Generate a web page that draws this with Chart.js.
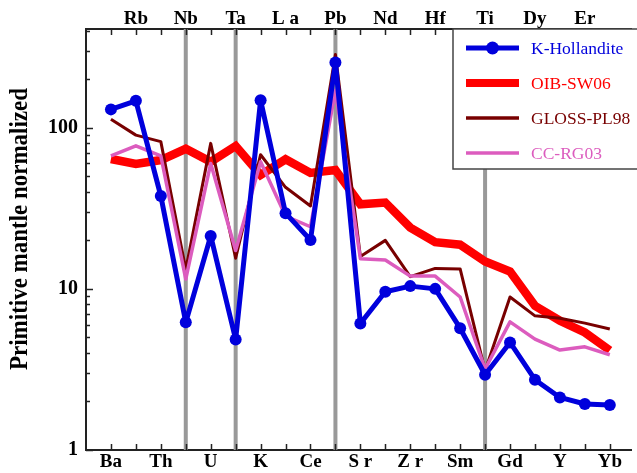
<!DOCTYPE html>
<html>
<head>
<meta charset="utf-8">
<script src="https://cdn.jsdelivr.net/npm/chart.js@4/dist/chart.umd.min.js"></script>
<style>
  html, body { margin: 0; padding: 0; background: #fff; }
  #c { display: block; }
</style>
</head>
<body>
<canvas id="c" width="637" height="473"></canvas>
<script>
// Element order along the x axis (spider diagram)
const elements = ['Ba','Rb','Th','Nb','U','Ta','K','La','Ce','Pb','Sr','Nd','Zr','Hf','Sm','Ti','Gd','Dy','Y','Er','Yb'];
// Axis labels as printed (even positions at the bottom, odd positions at the top)
const axisLabels = ['Ba','Rb','Th','Nb','U','Ta','K','L a','Ce','Pb','S r','Nd','Z r','Hf','Sm','Ti','Gd','Dy','Y','Er','Yb'];

// Primitive-mantle normalized concentrations
const kHollandite = [130, 147, 37.7, 6.2, 21.3, 4.85, 148, 29.5, 20.1, 254, 6.1, 9.6, 10.4, 10.0, 5.7, 2.93, 4.65, 2.73, 2.12, 1.93, 1.90];
const oibSW06     = [64, 59.6, 63, 74, 61.5, 77, 50.9, 63.7, 52.4, 54.7, 33.5, 34.3, 24.0, 19.5, 18.8, 14.8, 12.8, 7.85, 6.34, 5.36, 4.15];
const glossPL98   = [113, 90, 82, 13.2, 80, 15.5, 68, 42.7, 32.7, 285, 15.9, 20, 11.9, 13.4, 13.3, 3.1, 8.9, 6.8, 6.58, 6.13, 5.63];
const ccRG03      = [66.8, 77.3, 66.8, 11.5, 60, 17.3, 61.5, 28.3, 24.3, 170, 15.4, 15.1, 12, 12, 8.9, 3.18, 6.24, 4.88, 4.17, 4.37, 3.9];

// Elements highlighted with grey vertical guides
const markedElements = ['Nb','Ta','Pb','Ti'];
// Labelled decades on the log axis
const yMajorTicks = [1, 10, 100];
const yMinorTicks = [2,3,4,5,6,7,8,9,20,30,40,50,60,70,80,90,200,300,400];
const yTitle = 'Primitive mantle normalized';

const BLUE = '#0000dc', RED = '#ff0000', MAROON = '#780000', PINK = '#dc5cbe';
const SERIF = '"Liberation Serif", "Times New Roman", serif';

const pts = arr => arr.map((v, i) => ({ x: i, y: v }));
const idx = elements.map((_, i) => i);

const datasets = [
  { label: 'K-Hollandite', data: pts(kHollandite), borderColor: BLUE, backgroundColor: BLUE,
    borderWidth: 5, borderJoinStyle: 'round', pointRadius: 6, pointBorderWidth: 0, pointBackgroundColor: BLUE,
    order: 0, legendWidth: 5, marker: true },
  { label: 'OIB-SW06', data: pts(oibSW06), borderColor: RED, backgroundColor: RED,
    borderWidth: 8.5, borderJoinStyle: 'miter', pointRadius: 0, order: 3, legendWidth: 8 },
  { label: 'GLOSS-PL98', data: pts(glossPL98), borderColor: MAROON, backgroundColor: MAROON,
    borderWidth: 3, borderJoinStyle: 'round', pointRadius: 0, order: 2, legendWidth: 3.5 },
  { label: 'CC-RG03', data: pts(ccRG03), borderColor: PINK, backgroundColor: PINK,
    borderWidth: 3.5, borderJoinStyle: 'round', pointRadius: 0, order: 1, legendWidth: 3.5 }
];

// Grey guides, inward tick marks, axis title and the boxed legend
const decorations = {
  id: 'decorations',
  beforeDatasetsDraw(chart) {
    const { ctx, chartArea: a, scales } = chart;
    ctx.save();
    ctx.strokeStyle = '#999999';
    ctx.lineWidth = 4;
    markedElements.forEach(el => {
      const x = scales.x.getPixelForValue(elements.indexOf(el));
      ctx.beginPath();
      ctx.moveTo(x, a.top);
      ctx.lineTo(x, a.bottom);
      ctx.stroke();
    });
    ctx.restore();
  },
  afterDraw(chart) {
    const { ctx, chartArea: a, scales } = chart;
    ctx.save();
    ctx.strokeStyle = '#222';
    ctx.lineWidth = 1.5;
    // x ticks, bottom and top, pointing inwards
    idx.forEach(i => {
      const x = Math.round(scales.x.getPixelForValue(i)) + 0.5;
      ctx.beginPath();
      ctx.moveTo(x, a.bottom); ctx.lineTo(x, a.bottom - 6);
      ctx.moveTo(x, a.top); ctx.lineTo(x, a.top + 6);
      ctx.stroke();
    });
    // y ticks on the left axis
    yMajorTicks.concat(yMinorTicks).forEach(v => {
      const y = Math.round(scales.y.getPixelForValue(v)) + 0.5;
      const len = yMajorTicks.includes(v) ? 7 : 4;
      ctx.beginPath();
      ctx.moveTo(a.left, y); ctx.lineTo(a.left + len, y);
      ctx.stroke();
    });

    // rotated y-axis title, condensed to its printed length
    ctx.save();
    ctx.font = 'bold 25px ' + SERIF;
    ctx.fillStyle = '#000';
    ctx.textAlign = 'center';
    ctx.textBaseline = 'alphabetic';
    const w = ctx.measureText(yTitle).width;
    ctx.translate(27, 229);
    ctx.rotate(-Math.PI / 2);
    ctx.scale(282 / w, 1);
    ctx.fillText(yTitle, 0, 0);
    ctx.restore();

    // legend box
    const bx = 453, by = a.top, bw = 200, bh = 140;
    ctx.fillStyle = '#fff';
    ctx.fillRect(bx, by, bw, bh);
    ctx.strokeStyle = '#444';
    ctx.lineWidth = 1.5;
    ctx.strokeRect(bx, by, bw, bh);
    ctx.font = '17.5px ' + SERIF;
    ctx.textBaseline = 'middle';
    ctx.textAlign = 'left';
    datasets.forEach((d, k) => {
      const y = by + 19 + k * 35;
      ctx.strokeStyle = d.borderColor;
      ctx.lineWidth = d.legendWidth;
      ctx.beginPath();
      ctx.moveTo(466, y); ctx.lineTo(519, y);
      ctx.stroke();
      if (d.marker) {
        ctx.fillStyle = d.borderColor;
        ctx.beginPath();
        ctx.arc(492.5, y, 6.5, 0, Math.PI * 2);
        ctx.fill();
      }
      ctx.fillStyle = d.borderColor;
      ctx.fillText(d.label, 531, y + 1);
    });
    ctx.restore();
  }
};

const tickFont = { family: SERIF, size: 19, weight: 'bold' };

new Chart(document.getElementById('c'), {
  type: 'line',
  data: { datasets },
  options: {
    responsive: false,
    animation: false,
    layout: { padding: 0 },
    elements: { line: { tension: 0 } },
    plugins: { legend: { display: false }, tooltip: { enabled: false } },
    scales: {
      x: {
        type: 'linear', position: 'bottom', min: -1, max: 20.85,
        afterBuildTicks: s => { s.ticks = idx.filter(i => i % 2 === 0).map(v => ({ value: v })); },
        afterFit: s => { s.height = 23; },
        ticks: { callback: v => axisLabels[v], font: tickFont, color: '#000', padding: 1, maxRotation: 0, autoSkip: false },
        grid: { display: false, drawTicks: false },
        border: { color: '#222', width: 2 }
      },
      xTop: {
        type: 'linear', position: 'top', min: -1, max: 20.85,
        afterBuildTicks: s => { s.ticks = idx.filter(i => i % 2 === 1).map(v => ({ value: v })); },
        afterFit: s => { s.height = 29; },
        ticks: { callback: v => axisLabels[v], font: tickFont, color: '#000', padding: -1, maxRotation: 0, autoSkip: false },
        grid: { display: false, drawTicks: false },
        border: { color: '#222', width: 2 }
      },
      y: {
        type: 'logarithmic', position: 'left', min: 1, max: 410,
        afterBuildTicks: s => { s.ticks = yMajorTicks.map(v => ({ value: v })); },
        afterFit: s => { s.width = 86; },
        ticks: { callback: v => String(v), font: { family: SERIF, size: 20, weight: 'bold' }, color: '#000', padding: 8, autoSkip: false },
        grid: { display: false, drawTicks: false },
        border: { color: '#222', width: 2 }
      }
    }
  },
  plugins: [decorations]
});
</script>
</body>
</html>
